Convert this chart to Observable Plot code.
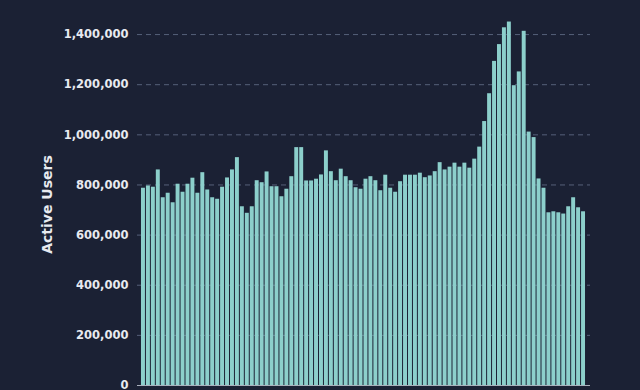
<!DOCTYPE html>
<html><head><meta charset="utf-8">
<script src="https://cdn.jsdelivr.net/npm/d3@7"></script>
<script src="https://cdn.jsdelivr.net/npm/@observablehq/plot@0.6"></script>
<style>
html,body{margin:0;padding:0;background:#1b2134;overflow:hidden;width:640px;height:390px;}
#chart svg{display:block;}
</style></head><body><div id="chart"></div>
<script>
const values = [
  787000, 796000, 791000, 860000, 749000, 767000, 729000, 803000, 771000, 803000,
  827000, 767000, 849000, 780000, 749000, 743000, 791000, 828000, 860000, 909000,
  713000, 687000, 713000, 817000, 809000, 852000, 793000, 793000, 753000, 783000,
  833000, 949000, 949000, 816000, 816000, 823000, 840000, 936000, 853000, 817000,
  863000, 833000, 817000, 789000, 783000, 823000, 833000, 817000, 777000, 839000,
  787000, 771000, 813000, 839000, 839000, 839000, 847000, 829000, 836000, 853000,
  889000, 860000, 871000, 887000, 871000, 887000, 867000, 903000, 951000, 1053000,
  1164000, 1293000, 1360000, 1427000, 1450000, 1196000, 1251000, 1413000, 1011000, 989000,
  824000, 787000, 689000, 693000, 689000, 684000, 713000, 749000, 709000, 693000
];
const periods = values.map((_, i) => i + 1);
const yTicks = [0, 200000, 400000, 600000, 800000, 1000000, 1200000, 1400000];
const yLabel = "Active Users";

const data = periods.map((p, i) => ({period: p, users: values[i]}));

const chart = Plot.plot({
  width: 640,
  height: 420,
  marginLeft: 137,
  marginRight: 50,
  marginTop: 9,
  marginBottom: 35,
  style: {background: "#1b2134", color: "#e8eaf0", fontFamily: "DejaVu Sans", fontSize: "11.5px", fontWeight: "bold"},
  x: {type: "band", domain: periods, padding: 0.2, insetLeft: 3, insetRight: 4, axis: null},
  y: {domain: [0, 1500000], axis: null},
  marks: [
    Plot.ruleY(yTicks.slice(1), {stroke: "#566079", strokeDasharray: "5,4", strokeWidth: 1}),
    Plot.barY(data, {x: "period", y: "users", fill: "#8ccfcb"}),
    Plot.ruleY([0], {stroke: "#aab0bc", strokeWidth: 1}),
    Plot.axisY({ticks: yTicks, tickSize: 0, tickPadding: 9, tickFormat: d3.format(","), label: null, fill: "#e8eaf0"}),
    Plot.text([yLabel], {frameAnchor: "left", dx: -90, dy: 7, rotate: -90, text: d => d, fill: "#e8eaf0", fontSize: 14, fontWeight: "bold", textAnchor: "middle"})
  ]
});
document.getElementById("chart").appendChild(chart);
</script>
</body></html>
